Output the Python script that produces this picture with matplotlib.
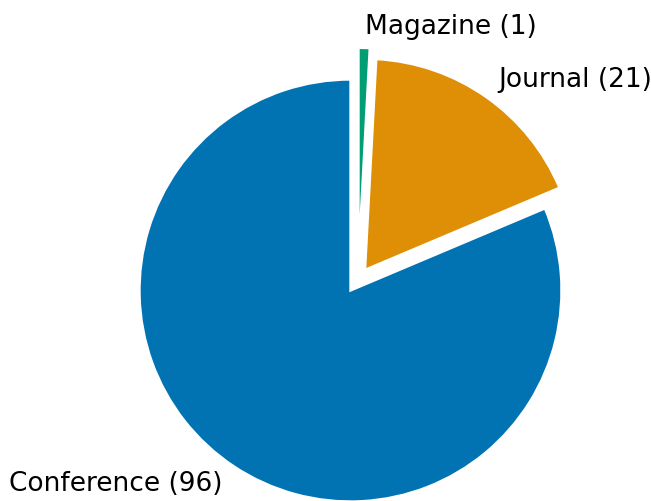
import matplotlib
matplotlib.use("Agg")
import matplotlib.pyplot as plt

# publication venues
venues = ["Conference", "Journal", "Magazine"]
counts = [96, 21, 1]
colors = ["#0173b2", "#de8f05", "#029e73"]
explode = [0, 0.12, 0.15]

labels = [f"{v} ({c})" for v, c in zip(venues, counts)]

fig = plt.figure(figsize=(6.51, 5.01), dpi=100)
ax = fig.add_axes([0, 0, 1, 1])
wedges, texts = ax.pie(counts, labels=labels, colors=colors, explode=explode,
                       startangle=90, labeldistance=1.1, radius=1.0,
                       wedgeprops={"edgecolor": "white", "linewidth": 1.7},
                       textprops={"fontsize": 19})

# centre the thin magazine slice in the gap between its neighbours
nudge = 0.034
cx0, cy0 = wedges[2].center
wedges[2].set_center((cx0 + nudge, cy0))
tx, ty = texts[2].get_position()
texts[2].set_position((tx + nudge, ty))

# one data unit = 211 px, pie centre at (350.5, 210.5) px
r = 211.0
cx, cy = 350.5, 210.5
ax.set_aspect("auto")
ax.set_xlim(-cx / r, (651 - cx) / r)
ax.set_ylim(-cy / r, (501 - cy) / r)
ax.axis("off")

fig.savefig("out.png", dpi=100)
